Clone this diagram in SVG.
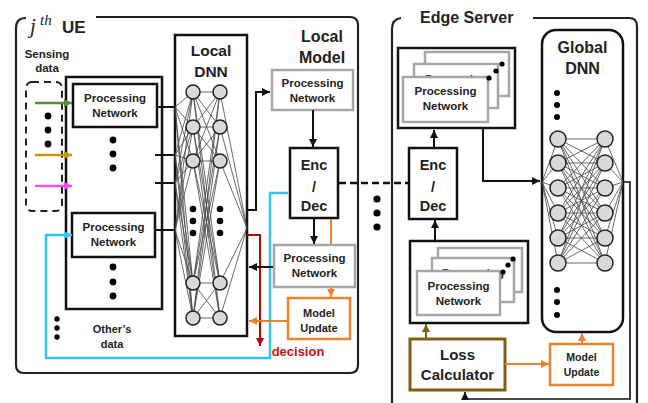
<svg xmlns="http://www.w3.org/2000/svg" width="648" height="403" viewBox="0 0 648 403">
  <style>
    .t { font-family: "Liberation Sans", Arial, sans-serif; font-weight: bold; fill: #222; text-anchor: middle; }
    .pn { font-size: 11.5px; }
    .mu { font-size: 11px; }
    .hd { font-size: 16px; }
    .ed { font-size: 14.5px; }
    .box { fill: #fff; stroke: #111; stroke-width: 2.5; }
    .gbox { fill: #fff; stroke: #a6a6a6; stroke-width: 2.5; }
    .obox { fill: #fff; stroke: #f0822e; stroke-width: 2.5; }
    .node { fill: #d9d9d9; stroke: #222; stroke-width: 1.5; }
    .syn { stroke: #444; stroke-width: 0.8; fill: none; }
    .ln { fill: none; stroke: #111; stroke-width: 2; }
    .frame { fill: none; stroke: #222; stroke-width: 2.2; }
  </style>
  <defs>
    <marker id="ah-k" markerUnits="userSpaceOnUse" markerWidth="9" markerHeight="8" refX="8" refY="4" orient="auto"><path d="M0,0 L8,4 L0,8 z" fill="#111"/></marker>
    <marker id="ah-o" markerUnits="userSpaceOnUse" markerWidth="9" markerHeight="8" refX="8" refY="4" orient="auto"><path d="M0,0 L8,4 L0,8 z" fill="#f0822e"/></marker>
    <marker id="ah-r" markerUnits="userSpaceOnUse" markerWidth="9" markerHeight="8" refX="8" refY="4" orient="auto"><path d="M0,0 L8,4 L0,8 z" fill="#c00000"/></marker>
    <marker id="ah-c" markerUnits="userSpaceOnUse" markerWidth="9" markerHeight="8" refX="8" refY="4" orient="auto"><path d="M0,0 L8,4 L0,8 z" fill="#2ec5ef"/></marker>
    <marker id="ah-g" markerUnits="userSpaceOnUse" markerWidth="9" markerHeight="8" refX="8" refY="4" orient="auto"><path d="M0,0 L8,4 L0,8 z" fill="#5a8c3c"/></marker>
    <marker id="ah-y" markerUnits="userSpaceOnUse" markerWidth="9" markerHeight="8" refX="8" refY="4" orient="auto"><path d="M0,0 L8,4 L0,8 z" fill="#c8960c"/></marker>
    <marker id="ah-m" markerUnits="userSpaceOnUse" markerWidth="9" markerHeight="8" refX="8" refY="4" orient="auto"><path d="M0,0 L8,4 L0,8 z" fill="#f050f0"/></marker>
    <marker id="ah-b" markerUnits="userSpaceOnUse" markerWidth="9" markerHeight="8" refX="8" refY="4" orient="auto"><path d="M0,0 L8,4 L0,8 z" fill="#7f6010"/></marker>
  </defs>

  <rect width="648" height="403" fill="#fff"/>

  <!-- UE frame -->
  <g id="ue">
    <path class="frame" d="M26,18 Q16,18 16,28 V365 Q16,373 24,373 H350 Q358,373 358,365 V25 Q358,17 350,17 H96"/>
    <text x="30" y="33" font-family="Liberation Serif, serif" font-style="italic" font-size="21" fill="#222">j</text>
    <text x="40" y="25" font-family="Liberation Serif, serif" font-style="italic" font-size="15" fill="#222">th</text>
    <text x="62" y="33" font-family="Liberation Sans, Arial, sans-serif" font-weight="bold" font-size="17" fill="#222">UE</text>
    <text class="t" font-size="11.5" x="47" y="58">Sensing</text>
    <text class="t" font-size="11.5" x="47" y="72">data</text>
  </g>

  <!-- Edge server frame -->
  <g id="edge">
    <path class="frame" d="M401,18 Q392,19 392,29 V403"/>
    <path class="frame" d="M533,18 H629 Q637,18 637,26 V403"/>
    <text x="420" y="23" font-family="Liberation Sans, Arial, sans-serif" font-weight="bold" font-size="16" fill="#222">Edge Server</text>
  </g>

  <!-- sensing inputs -->
  <g id="sensing">
    <rect x="26" y="82" width="36" height="129" rx="6" fill="none" stroke="#222" stroke-width="2" stroke-dasharray="7 5"/>
    <circle cx="48" cy="116" r="3.4"/>
    <circle cx="48" cy="130" r="3.4"/>
    <circle cx="48" cy="144" r="3.4"/>
  </g>

  <!-- processing network bank -->
  <g id="pn-bank">
    <rect x="66" y="77" width="96" height="232" fill="#fff" stroke="#111" stroke-width="2.5"/>
    <rect class="box" x="73" y="84" width="84" height="43"/>
    <text class="t pn" x="115" y="102">Processing</text>
    <text class="t pn" x="115" y="117">Network</text>
    <circle cx="113" cy="140" r="3.4"/>
    <circle cx="113" cy="154" r="3.4"/>
    <circle cx="113" cy="168" r="3.4"/>
    <rect class="box" x="72" y="213" width="83" height="44"/>
    <text class="t pn" x="113.5" y="231">Processing</text>
    <text class="t pn" x="113.5" y="246">Network</text>
    <circle cx="113" cy="267" r="3.4"/>
    <circle cx="113" cy="282" r="3.4"/>
    <circle cx="113" cy="296" r="3.4"/>
  </g>

  <g id="others">
    <circle cx="57" cy="319" r="2.7"/>
    <circle cx="57" cy="328" r="2.7"/>
    <circle cx="57" cy="337" r="2.7"/>
    <text class="t" font-size="11" x="112" y="333">Other’s</text>
    <text class="t" font-size="11" x="112" y="348">data</text>
  </g>

  <!-- Local DNN -->
  <g id="local-dnn">
    <rect x="175" y="35" width="72" height="301" fill="#fff" stroke="#111" stroke-width="2.5"/>
    <text class="t" font-size="15.5" x="211" y="56">Local</text>
    <text class="t" font-size="15.5" x="211" y="77">DNN</text>
    <g class="syn">
      <!-- inputs to first layer -->
      <path d="M175,107 L193,92 M175,107 L193,127 M175,107 L193,161 M175,107 L193,283 M175,107 L193,318"/>
      <path d="M175,155 L193,92 M175,155 L193,127 M175,155 L193,161 M175,155 L193,283 M175,155 L193,318"/>
      <path d="M175,183 L193,92 M175,183 L193,127 M175,183 L193,161 M175,183 L193,283 M175,183 L193,318"/>
      <path d="M175,230 L193,92 M175,230 L193,127 M175,230 L193,161 M175,230 L193,283 M175,230 L193,318"/>
      <!-- first to second layer -->
      <path d="M193,92 L220,92 M193,92 L220,127 M193,92 L220,161 M193,92 L220,283 M193,92 L220,318"/>
      <path d="M193,127 L220,92 M193,127 L220,127 M193,127 L220,161 M193,127 L220,283 M193,127 L220,318"/>
      <path d="M193,161 L220,92 M193,161 L220,127 M193,161 L220,161 M193,161 L220,283 M193,161 L220,318"/>
      <path d="M193,283 L220,92 M193,283 L220,127 M193,283 L220,161 M193,283 L220,283 M193,283 L220,318"/>
      <path d="M193,318 L220,92 M193,318 L220,127 M193,318 L220,161 M193,318 L220,283 M193,318 L220,318"/>
      <!-- second layer to output -->
      <path d="M220,92 L247,228 M220,127 L247,228 M220,161 L247,228 M220,283 L247,228 M220,318 L247,228"/>
    </g>
    <circle class="node" cx="193" cy="92" r="7"/>
    <circle class="node" cx="193" cy="127" r="7"/>
    <circle class="node" cx="193" cy="161" r="7"/>
    <circle class="node" cx="193" cy="283" r="7"/>
    <circle class="node" cx="193" cy="318" r="7"/>
    <circle class="node" cx="220" cy="92" r="7"/>
    <circle class="node" cx="220" cy="127" r="7"/>
    <circle class="node" cx="220" cy="161" r="7"/>
    <circle class="node" cx="220" cy="283" r="7"/>
    <circle class="node" cx="220" cy="318" r="7"/>
    <circle cx="193" cy="209" r="3.3"/><circle cx="193" cy="221" r="3.3"/><circle cx="193" cy="233" r="3.3"/>
    <circle cx="220" cy="209" r="3.3"/><circle cx="220" cy="221" r="3.3"/><circle cx="220" cy="233" r="3.3"/>
  </g>

  <!-- Local model -->
  <g id="local-model">
    <text class="t hd" x="322" y="42">Local</text>
    <text class="t hd" x="322" y="63">Model</text>
  </g>
  <g id="local-pn-up">
    <rect class="gbox" x="272" y="70" width="81" height="40"/>
    <text class="t pn" x="312.5" y="87">Processing</text>
    <text class="t pn" x="312.5" y="102">Network</text>
  </g>
  <g id="local-encdec">
    <rect class="box" x="290" y="148" width="48" height="70"/>
    <text class="t ed" x="314" y="170">Enc</text>
    <text class="t ed" x="314" y="192">/</text>
    <text class="t ed" x="314" y="211">Dec</text>
  </g>
  <g id="local-pn-down">
    <rect class="gbox" x="274" y="245" width="81" height="42"/>
    <text class="t pn" x="314.5" y="262">Processing</text>
    <text class="t pn" x="314.5" y="277">Network</text>
  </g>
  <g id="local-update">
    <rect class="obox" x="288" y="298" width="62" height="41"/>
    <text class="t mu" x="319" y="317">Model</text>
    <text class="t mu" x="319" y="332">Update</text>
  </g>
  <text class="t" font-size="13" x="298" y="356" style="fill:#cc1111">decision</text>

  <!-- Edge: uplink processing stack -->
  <g id="edge-pn-up">
    <rect x="398" y="48" width="117" height="80" fill="#fff" stroke="#111" stroke-width="2.5"/>
    <rect class="gbox" x="425" y="52" width="84" height="44"/>
    <rect class="gbox" x="414" y="64" width="84" height="44"/>
    <text class="t pn" x="456" y="83">Processing</text>
    <rect class="gbox" x="403" y="77" width="85" height="45"/>
    <text class="t pn" x="445.5" y="95">Processing</text>
    <text class="t pn" x="445.5" y="110">Network</text>
    <circle cx="489" cy="78" r="2.6"/>
    <circle cx="496" cy="71" r="2.6"/>
    <circle cx="502" cy="64" r="2.6"/>
  </g>
  <g id="edge-encdec">
    <rect class="box" x="409" y="148" width="48" height="71"/>
    <text class="t ed" x="433" y="170">Enc</text>
    <text class="t ed" x="433" y="192">/</text>
    <text class="t ed" x="433" y="211">Dec</text>
  </g>
  <g id="edge-pn-down">
    <rect x="410" y="241" width="118" height="82" fill="#fff" stroke="#111" stroke-width="2.5"/>
    <rect class="gbox" x="438" y="248" width="84" height="44"/>
    <rect class="gbox" x="432" y="258" width="82" height="44"/>
    <text class="t pn" x="473" y="277">Processing</text>
    <rect class="gbox" x="417" y="271" width="83" height="44"/>
    <text class="t pn" x="458.5" y="290">Processing</text>
    <text class="t pn" x="458.5" y="305">Network</text>
    <circle cx="503" cy="272" r="2.6"/>
    <circle cx="508" cy="265" r="2.6"/>
    <circle cx="513" cy="259" r="2.6"/>
  </g>
  <g id="loss">
    <rect x="410" y="339" width="95" height="51" fill="#fff" stroke="#7f6010" stroke-width="3"/>
    <text class="t" font-size="15" x="457.5" y="360">Loss</text>
    <text class="t" font-size="15" x="457.5" y="380">Calculator</text>
  </g>
  <g id="edge-update">
    <rect class="obox" x="550" y="344" width="63" height="41"/>
    <text class="t" font-size="10.5" x="581.5" y="361">Model</text>
    <text class="t" font-size="10.5" x="581.5" y="376">Update</text>
  </g>

  <!-- Global DNN -->
  <g id="global-dnn">
    <rect x="542" y="30" width="81" height="302" rx="14" fill="#fff" stroke="#111" stroke-width="2.5"/>
    <text class="t hd" x="582.5" y="53">Global</text>
    <text class="t hd" x="582.5" y="74">DNN</text>
    <circle cx="557" cy="93" r="3"/><circle cx="557" cy="105" r="3"/><circle cx="557" cy="117" r="3"/>
    <circle cx="557" cy="290" r="3"/><circle cx="557" cy="302" r="3"/><circle cx="557" cy="315" r="3"/>
    <g class="syn" stroke="#333">
      <path d="M542,182 L558,139 M542,182 L558,163 M542,182 L558,188 M542,182 L558,213 M542,182 L558,238 M542,182 L558,263"/>
      <path d="M558,139 L605,139 M558,139 L605,163 M558,139 L605,188 M558,139 L605,213 M558,139 L605,238 M558,139 L605,263"/>
      <path d="M558,163 L605,139 M558,163 L605,163 M558,163 L605,188 M558,163 L605,213 M558,163 L605,238 M558,163 L605,263"/>
      <path d="M558,188 L605,139 M558,188 L605,163 M558,188 L605,188 M558,188 L605,213 M558,188 L605,238 M558,188 L605,263"/>
      <path d="M558,213 L605,139 M558,213 L605,163 M558,213 L605,188 M558,213 L605,213 M558,213 L605,238 M558,213 L605,263"/>
      <path d="M558,238 L605,139 M558,238 L605,163 M558,238 L605,188 M558,238 L605,213 M558,238 L605,238 M558,238 L605,263"/>
      <path d="M558,263 L605,139 M558,263 L605,163 M558,263 L605,188 M558,263 L605,213 M558,263 L605,238 M558,263 L605,263"/>
      <path d="M605,139 L623,182 M605,163 L623,182 M605,188 L623,182 M605,213 L623,182 M605,238 L623,182 M605,263 L623,182"/>
    </g>
    <circle class="node" cx="558" cy="139" r="8"/>
    <circle class="node" cx="558" cy="163" r="8"/>
    <circle class="node" cx="558" cy="188" r="8"/>
    <circle class="node" cx="558" cy="213" r="8"/>
    <circle class="node" cx="558" cy="238" r="8"/>
    <circle class="node" cx="558" cy="263" r="8"/>
    <circle class="node" cx="605" cy="139" r="8"/>
    <circle class="node" cx="605" cy="163" r="8"/>
    <circle class="node" cx="605" cy="188" r="8"/>
    <circle class="node" cx="605" cy="213" r="8"/>
    <circle class="node" cx="605" cy="238" r="8"/>
    <circle class="node" cx="605" cy="263" r="8"/>
  </g>

  <!-- connectors -->
  <g id="connectors">
    <line x1="35" y1="103" x2="72" y2="103" stroke="#5a8c3c" stroke-width="2.5" marker-end="url(#ah-g)"/>
    <line x1="35" y1="155" x2="72" y2="155" stroke="#c8960c" stroke-width="2.5" marker-end="url(#ah-y)"/>
    <line x1="35" y1="186" x2="72" y2="186" stroke="#f050f0" stroke-width="2.5" marker-end="url(#ah-m)"/>
    <path d="M288,193 H270 V358 H46 V235 H72" fill="none" stroke="#2ec5ef" stroke-width="2.5" marker-end="url(#ah-c)"/>
    <path class="ln" d="M157,107 H175 M155,155 H175 M155,183 H175 M155,230 H175"/>
    <path class="ln" d="M247,210 H256 V92 H270" marker-end="url(#ah-k)"/>
    <path d="M247,235 H260 V346" fill="none" stroke="#c00000" stroke-width="2" marker-end="url(#ah-r)"/>
    <line class="ln" x1="313" y1="110" x2="313" y2="147" marker-end="url(#ah-k)"/>
    <line class="ln" x1="314" y1="219" x2="314" y2="244" marker-end="url(#ah-k)"/>
    <line class="ln" x1="273" y1="267" x2="249" y2="267" marker-end="url(#ah-k)"/>
    <line x1="331" y1="219" x2="331" y2="244" stroke="#f0822e" stroke-width="2"/>
    <line x1="331" y1="288" x2="331" y2="297" stroke="#f0822e" stroke-width="2" marker-end="url(#ah-o)"/>
    <line x1="287" y1="321" x2="249" y2="321" stroke="#f0822e" stroke-width="2" marker-end="url(#ah-o)"/>
    <line x1="339" y1="183" x2="408" y2="183" stroke="#111" stroke-width="2.5" stroke-dasharray="7 4"/>
    <circle cx="377" cy="199" r="3.6"/>
    <circle cx="377" cy="213" r="3.6"/>
    <circle cx="377" cy="227" r="3.6"/>
    <line class="ln" x1="434" y1="148" x2="434" y2="130" marker-end="url(#ah-k)"/>
    <path class="ln" d="M483,129 V181 H540" marker-end="url(#ah-k)"/>
    <line class="ln" x1="435" y1="241" x2="435" y2="220" marker-end="url(#ah-k)"/>
    <line x1="426" y1="339" x2="426" y2="324" stroke="#7f6010" stroke-width="2" marker-end="url(#ah-b)"/>
    <line x1="505" y1="364" x2="549" y2="364" stroke="#f0822e" stroke-width="2" marker-end="url(#ah-o)"/>
    <line x1="582" y1="344" x2="582" y2="333" stroke="#f0822e" stroke-width="2" marker-end="url(#ah-o)"/>
    <path d="M623,182 H630 V399 H465 V392" fill="none" stroke="#111" stroke-width="1.6" marker-end="url(#ah-k)"/>
  </g>
</svg>
